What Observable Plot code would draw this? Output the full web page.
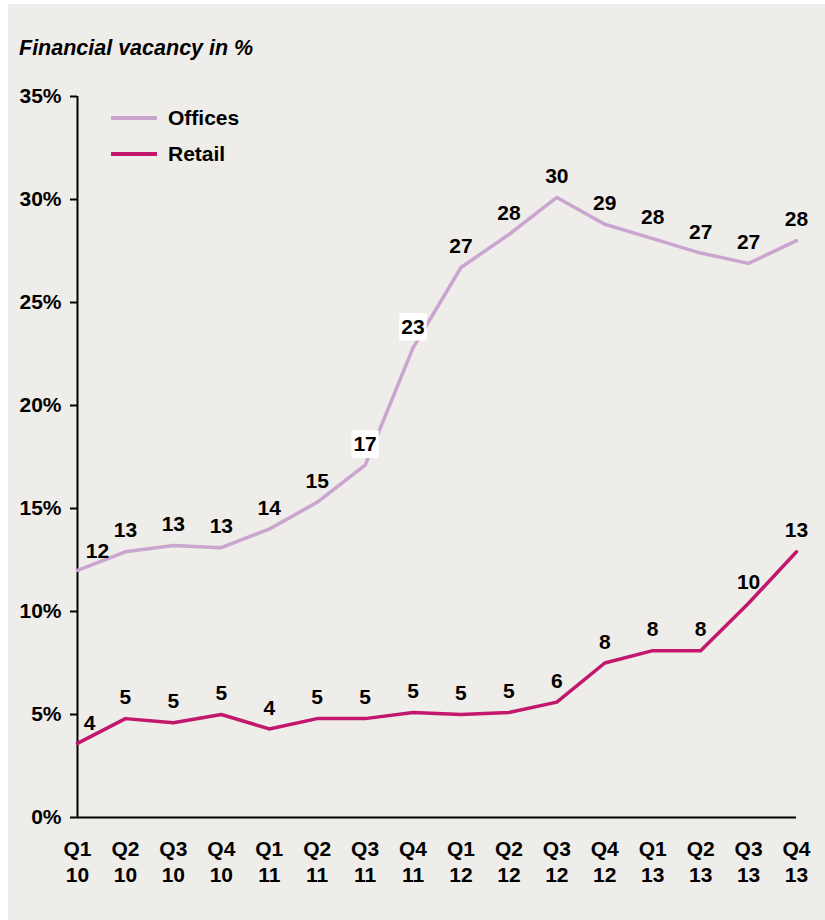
<!DOCTYPE html>
<html><head><meta charset="utf-8">
<script src="https://cdn.jsdelivr.net/npm/d3@7"></script>
<script src="https://cdn.jsdelivr.net/npm/@observablehq/plot@0.6"></script>
<style>
body{margin:0;background:#fff;font-family:"Liberation Sans",Arial,sans-serif;overflow:hidden;}
#bg{position:absolute;left:8px;top:4px;width:817px;height:916px;background:#EEEDEA;}
#title{position:absolute;left:19px;top:38px;font-style:italic;font-weight:bold;font-size:21.5px;line-height:1;color:#000;}
#chart{position:absolute;left:0;top:70px;}
.leg{position:absolute;left:111px;font-weight:bold;font-size:21px;line-height:22px;color:#000;display:flex;align-items:center;}
.leg .sw{display:inline-block;width:46px;height:4px;margin-right:11px;}
</style></head>
<body>
<div id="bg"></div>
<div id="title">Financial vacancy in %</div>
<div id="chart"></div>
<div class="leg" style="top:107px"><span class="sw" style="background:#C9A5CF"></span>Offices</div>
<div class="leg" style="top:143px"><span class="sw" style="background:#C2176D"></span>Retail</div>
<script>
const quarters = ["Q1","Q2","Q3","Q4","Q1","Q2","Q3","Q4","Q1","Q2","Q3","Q4","Q1","Q2","Q3","Q4"];
const years    = ["10","10","10","10","11","11","11","11","12","12","12","12","13","13","13","13"];
const offices  = [12.0,12.9,13.2,13.1,14.0,15.3,17.1,22.8,26.7,28.3,30.1,28.8,28.1,27.4,26.9,28.0];
const retail   = [3.6,4.8,4.6,5.0,4.3,4.8,4.8,5.1,5.0,5.1,5.6,7.5,8.1,8.1,10.4,12.9];
const seriesNames = ["Offices","Retail"];
const seriesColors = ["#C9A5CF","#C2176D"];
const yTicks = [0,5,10,15,20,25,30,35];

const periods = quarters.map((q,i) => q + "\n" + years[i]);
const rows = periods.flatMap((p,i) => [
  {period:p, i, series:"Offices", value:offices[i]},
  {period:p, i, series:"Retail", value:retail[i]}
]);
const boxed = rows.filter(d => d.series === "Offices" && (d.i === 6 || d.i === 7));
const FS = 21;

const chart = Plot.plot({
  width: 825, height: 850,
  marginLeft: 77, marginRight: 29, marginTop: 26, marginBottom: 103,
  style: {background:"transparent", fontFamily:"'Liberation Sans', Arial, sans-serif", fontSize:FS + "px", fontWeight:"bold", color:"#000"},
  x: {type:"point", domain: periods, padding: 0, round: false, label: null},
  y: {domain:[0,35], label: null},
  color: {domain: seriesNames, range: seriesColors},
  marks: [
    Plot.axisX({tickSize:0, tickPadding:21, lineHeight:1.2, fontSize:FS, fontWeight:"bold", label:null}),
    Plot.axisY({ticks:yTicks, tickSize:7, tickPadding:9, strokeWidth:2, tickFormat:d => d + "%", fontSize:FS, fontWeight:"bold", label:null}),
    Plot.ruleX([periods[0]], {y1:0, y2:35, stroke:"#000", strokeWidth:2}),
    Plot.ruleY([0], {stroke:"#000", strokeWidth:2}),
    Plot.lineY(rows, {x:"period", y:"value", stroke:"series", strokeWidth:3.5}),
    Plot.dot(boxed, {x:"period", y:"value", dy:-21, symbol:"square", r:15.5, fill:"white", stroke:"none"}),
    Plot.text(rows.filter(d => d.i > 0), {x:"period", y:"value", dy:-21, text:d => Math.round(d.value), fontSize:FS, fontWeight:"bold", fill:"#000"}),
    Plot.text(rows.filter(d => d.i === 0 && d.series === "Offices"), {x:"period", y:"value", dx:20, dy:-19, text:d => Math.round(d.value), fontSize:FS, fontWeight:"bold", fill:"#000"}),
    Plot.text(rows.filter(d => d.i === 0 && d.series === "Retail"), {x:"period", y:"value", dx:12, dy:-20, text:d => Math.round(d.value), fontSize:FS, fontWeight:"bold", fill:"#000"})
  ]
});
document.getElementById("chart").appendChild(chart);
</script>
</body></html>
